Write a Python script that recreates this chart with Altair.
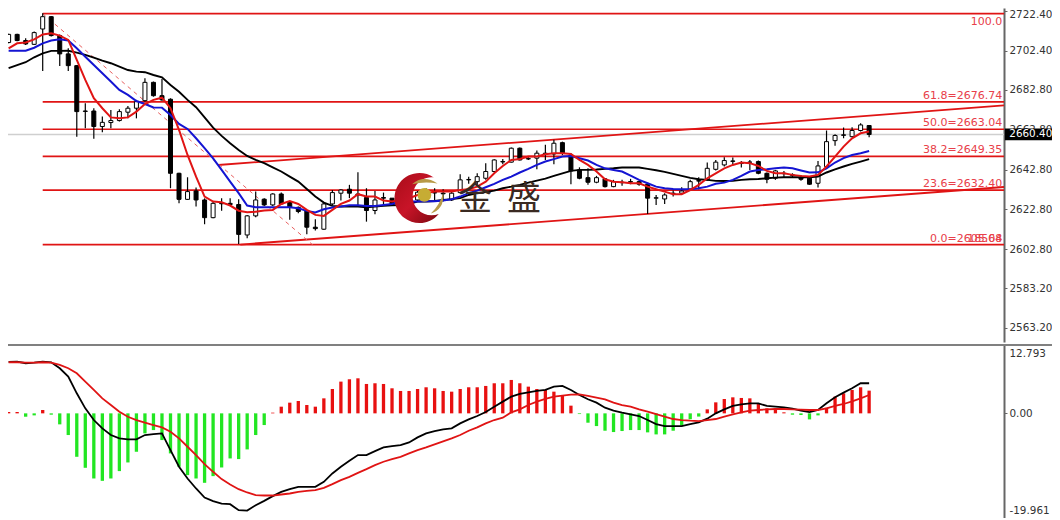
import altair as alt
import pandas as pd

bar_index = list(range(1, 103))
open_prices = [
    2706.6,2710.7,2707.6,2705.7,2713.4,2719.6,2710.1,2700.9,2695,2672.2,
    2672.2,2664.4,2666.4,2667.4,2671.6,2673.6,2677.4,2686.6,2679.9,2678.1,
    2640.9,2627.8,2632,2627.5,2618.6,2625.8,2625.8,2625.2,2609.9,2619.5,
    2627.9,2625,2630.5,2626.2,2623.8,2622,2613.8,2612.8,2625.5,2630.9,
    2632.9,2630.5,2628.7,2622.2,2628.7,2628.4,2625,2626,2627.5,2631,
    2631.2,2630.9,2627.5,2631.2,2637.6,2636.7,2638.4,2641.8,2646.8,2646.5,
    2653.5,2648.1,2648.5,2650.6,2650.6,2656.3,2650.1,2642.6,2638.7,2636.4,
    2638.1,2634.2,2636.4,2636.7,2636.7,2635.4,2628.4,2628,2630.9,2630.9,
    2632.9,2637.2,2637.6,2642.9,2645.1,2647.1,2645.95,2646.5,2646.8,2640.9,
    2638.4,2640.9,2640.1,2638.7,2638.4,2635.9,2644.3,2657.3,2660.2,2659.3,
    2662.4,2664.9]
high_prices = [
    2711,2711,2708.7,2712.1,2721.3,2720,2710.7,2703.7,2695.3,2676.1,
    2673.6,2669.4,2672.7,2673.1,2674.7,2677.8,2688.6,2687,2688.3,2678.6,
    2641.2,2638.9,2633.7,2628.3,2626.7,2628.3,2628.3,2627.8,2620,2631.7,
    2628.4,2630.9,2631.2,2626.7,2624.2,2622.5,2617.8,2626.2,2632.5,2632.9,
    2635.1,2641.4,2633.4,2632,2631.2,2628.4,2628,2629,2632,2633.4,
    2633.4,2632.9,2631.5,2640.4,2639.2,2640.9,2645.9,2648,2648.1,2653.8,
    2653.8,2649,2652.3,2655.2,2657.7,2656.8,2651,2643.9,2643.4,2639.6,
    2638.4,2637.6,2637.6,2638.1,2637.2,2636.2,2630,2630.9,2632.2,2633.9,
    2637.6,2638.9,2646.3,2647.6,2649,2648.8,2647.1,2647.6,2647.3,2641.3,
    2642.6,2642.1,2640.9,2640.1,2638.9,2647.1,2662.4,2660.5,2663.9,2664,
    2666,2665.2]
low_prices = [
    2706.3,2707.3,2705.4,2705.4,2692.3,2709.6,2694.8,2692.3,2659.3,2663.5,
    2658.2,2661.5,2663.5,2666.9,2668.5,2668.5,2676.9,2679.4,2677.4,2633.4,
    2625.8,2627.5,2624.2,2615.3,2618.3,2622.1,2625,2605.4,2608.2,2618.8,
    2624.5,2624.5,2625,2617.5,2620.8,2610.3,2612.1,2612.5,2625,2627.2,
    2628.4,2624.2,2616.6,2620.3,2625,2624.5,2624,2625,2627,2628,
    2627.5,2626.7,2627,2630.9,2635.6,2635.1,2637.6,2641.3,2645.4,2646.3,
    2647.3,2647.6,2642.9,2647.6,2645.4,2650.1,2635.4,2637.9,2635.1,2635.9,
    2633.7,2633.9,2634.6,2635.4,2634.7,2620.5,2625,2625.5,2629.2,2630.4,
    2632.5,2632.9,2637.2,2642.3,2644.3,2645.1,2643.8,2642.6,2640.4,2635.9,
    2637.6,2638.9,2638.9,2637.2,2635.1,2633.7,2643.4,2654.7,2658.5,2659,
    2661.9,2659]
close_prices = [
    2710.7,2707.6,2705.9,2711.6,2719.6,2710.1,2700.9,2695,2671.9,2672,
    2664.4,2666.5,2667.4,2671.9,2673.6,2676.9,2686.6,2679.9,2677.8,2640.9,
    2627.8,2631.7,2627.5,2618.6,2625.8,2625.6,2625.2,2610.2,2619.5,2627.5,
    2625,2630.5,2625.5,2623.8,2621.7,2613.8,2613.1,2625.5,2631.2,2632.5,
    2630.9,2630,2622.2,2627.5,2628.4,2625,2626,2627,2631.4,2631.5,
    2631,2630.6,2630.9,2637.6,2637.8,2639.2,2641.8,2647.6,2646.6,2653.5,
    2647.6,2648.3,2651,2651,2656,2651,2642.1,2638.4,2636.4,2638.7,
    2634.2,2636.7,2636.2,2636.5,2635.4,2628.4,2628.6,2630,2630.7,2632,
    2636.7,2637,2643.4,2646.5,2647.3,2646.9,2645.8,2646.5,2640.9,2637.9,
    2642.1,2640.7,2639.9,2637.9,2635.4,2644.6,2656.8,2659.9,2660,2662.4,
    2665.2,2660.4]
ma_fast = [
    2703.7,2706.2,2706.6,2708.2,2710.7,2711.3,2710.1,2707.9,2697.9,2687.8,
    2678.6,2673.6,2669,2668.5,2669,2671.9,2675.7,2677.8,2678.9,2673.6,
    2662.7,2650.1,2639.2,2629.2,2626.7,2626.3,2624.7,2622.1,2621.3,2621.6,
    2622.2,2622.5,2625.5,2626.9,2625.5,2622.5,2620,2619.5,2622.5,2625.5,
    2627.2,2630.4,2629.2,2629.2,2627.2,2626.7,2627.5,2628.4,2630,2630.9,
    2631.7,2631.7,2631.7,2632.5,2632.9,2634.2,2636.7,2640.9,
    2644.6,2647.6,2648.1,2649.3,2649.3,2650.5,2651,2651,2650.6,2647.6,
    2645.1,2641.8,2637.9,2636.7,2636.4,2635.9,2635.9,2634.2,2632.9,2631.7,
    2630.4,2630.4,2632.5,2635.1,2638.4,2640.9,2643.4,2645.1,2646.3,
    2646,2644.6,2642.1,2640.9,2640.9,2640.1,2639.6,2639.3,2640.1,2644.3,
    2649.3,2654.3,2658.5,2661,2661.9]
ma_mid = [
    2702.5,2702.5,2702.5,2704,2706.2,2707.6,2708.2,2707.6,2703.7,2699.5,
    2695.3,2691.2,2687,2682.8,2680.3,2677.2,2675.7,2674,2673.9,2670.2,
    2665.7,2663.2,2658.5,2653.5,2648.4,2642.6,2636.7,2630.9,2624.7,2623.8,
    2623.8,2623.8,2623.8,2623.8,2623.3,2622,2621.2,2622.8,2623.7,2624.2,
    2624.8,2624.8,2624.5,2624.5,2625,2625.5,2626.7,2626.7,2626.7,2626.9,
    2626.9,2627.2,2627.9,2629.2,2630.9,2632.2,2633.9,2635.6,
    2637.6,2639.2,2641.3,2643.1,2645.1,2646.8,2648,2649.3,2649.6,2648.5,
    2647.3,2645.1,2643.4,2642.6,2641.8,2639.7,2637.6,2635.9,2634.2,2633.4,
    2633,2632.9,2632.9,2633.4,2634.2,2635.6,2636.2,2637.6,2639.6,
    2641.8,2642.6,2642.9,2643.4,2643.8,2643.4,2642.3,2641.3,2641.4,2643.4,
    2646.3,2648.5,2650.1,2651,2652.1]
ma_slow = [
    2693.7,2695.3,2696.7,2699.2,2701.2,2702.4,2702.4,2702.5,2701.5,2700.4,
    2699,2697.5,2696.2,2694.5,2692.8,2692,2691.7,2690.3,2689.1,2685.3,
    2681.9,2677.8,2674.1,2669,2663.8,2659.7,2656,2652.6,2649.6,2647.6,
    2646,2643.9,2641.8,2639.2,2636.7,2633,2629.2,2626.2,2624.5,2624.2,
    2624.2,2624.2,2623.8,2624.2,2624.5,2624.8,2625,2625.5,2626.7,2626.7,
    2627,2627.5,2627.9,2628.4,2630,2630.9,2631.5,2632.2,
    2633.4,2634.2,2635.1,2636.2,2637.2,2638.2,2639.6,2640.9,2642.1,2642.6,
    2642.6,2642.8,2643.1,2643.4,2643.8,2643.8,2643.8,2643.1,2642.4,2641.6,
    2640.6,2639.6,2638.6,2637.9,2637.6,2637.1,2637,2637.1,2637.6,
    2637.9,2638,2638.4,2638.7,2638.9,2638.9,2638.9,2638.9,2639.2,2641.3,
    2642.9,2644.3,2645.6,2646.8,2648]
macd_hist = [
    .25,.25,-.63,-.38,.63,-.25,-2.06,-4.06,-8.13,-10.19,
    -12.19,-12.63,-12.19,-10.81,-9.19,-7.19,-3.75,-3.13,-5,-7.5,
    -10,-11.56,-12.19,-13,-11.75,-10.13,-8.44,-8.56,-6.75,-4.06,
    -2.19,.13,1.25,2,2.31,1.56,1.25,2.81,4.56,5.94,
    6.38,6.56,5.5,5.63,5.5,4.69,4.19,4.19,4.56,4.88,
    4.69,4.19,4.06,4.56,4.88,4.88,5.13,5.63,5.63,6.25,
    5.63,5,4.56,4.38,4.06,3.44,1.44,-.13,-1.75,-2.38,
    -3.25,-3.5,-3.31,-3.13,-3.13,-3.56,-3.94,-3.94,-3.25,-2.3,
    -1.1,-.6,.75,2.06,2.69,3,2.88,2.81,1.88,.94,
    .94,.19,-.25,-.31,-1.13,-.38,1.06,3.13,3.75,4.38,
    4.88,4.25]
macd_line = [
    9.63,9.69,9.38,9.5,9.69,9.56,8.44,6.88,3.75,.94,
    -1.25,-2.81,-4.06,-4.69,-4.88,-4.88,-4.06,-3.88,-3.75,-6.88,
    -10,-12.19,-14.06,-15.75,-16.44,-16.88,-17,-18.13,-18.19,-17.19,
    -16.38,-15.5,-14.69,-14.19,-13.75,-13.75,-13.75,-12.81,-11.25,-10,
    -8.88,-7.81,-7.81,-7.06,-6.38,-6.13,-5.94,-5.44,-4.5,-3.75,
    -3.31,-3,-2.81,-1.88,-1.13,-.5,.25,1.25,2.19,3.13,
    3.63,3.94,4.19,4.38,5,5.13,4.38,3.44,2.63,2,
    1.06,.5,.13,-.19,-.5,-1.25,-2,-2.38,-2.38,-2.38,
    -2,-1.69,-1,0,.75,1.38,1.69,1.88,1.88,1.38,
    1.25,1.13,.88,.5,.25,.63,1.88,3,3.88,4.69,
    5.63,5.63]
macd_signal = [
    9.56,9.56,9.5,9.5,9.56,9.5,9.06,8.44,7.5,5.94,
    4.38,2.81,1.56,.31,-.63,-1.25,-1.75,-2.19,-2.63,-3.44,
    -4.69,-6.25,-7.81,-9.5,-10.94,-12.31,-13.31,-14.19,-14.81,-15.31,
    -15.38,-15.38,-15.19,-15,-14.69,-14.5,-14.38,-13.94,-13.25,-12.5,
    -11.88,-11.13,-10.44,-9.69,-9.06,-8.56,-8.13,-7.5,-6.88,-6.38,
    -5.81,-5.25,-4.69,-4.06,-3.25,-2.63,-1.88,-1.25,-.81,.19,
    .75,1.56,2.19,2.69,3.13,3.31,3.5,3.56,3.25,2.94,
    2.63,2,1.56,1.25,.75,.31,-.13,-.63,-1.06,-1.25,
    -1.38,-1.44,-1.25,-1.06,-.63,-.19,.19,.5,.63,.75,
    .81,.81,.75,.69,.63,.63,.94,1.38,1.75,2.25,
    2.81,3.44]

fib_levels = [2721.1, 2676.74, 2663.04, 2649.35, 2632.40, 2605.04]
fib_labels = ["100.0", "61.8=2676.74", "50.0=2663.04", "38.2=2649.35", "23.6=2632.40", "0.0=2605.04"]
fib_overprint = ["18568"]
fib_start = 5
channel_upper_x = [25.6, 117.83]
channel_upper_y = [2645.06, 2675.0]
channel_lower_x = [28.2, 117.83]
channel_lower_y = [2605.1, 2634.0]
dashed_x = [5, 36.7]
dashed_y = [2721.1, 2604.9]
last_price = 2660.40
price_ticks = [2722.4, 2702.4, 2682.8, 2662.8, 2642.8, 2622.8, 2602.8, 2583.2, 2563.2]
macd_ticks = [12.793, 0, -19.961]

X_MIN, X_MAX, X_EDGE = 0.927, 117.83, 123.46
FONT = "DejaVu Sans"
AXIS_FONT_SIZE = 10.4
RED = "#e01414"
xs = alt.Scale(domain=[X_MIN, X_MAX], range=[0, 996], nice=False, zero=False, padding=0)
ps = alt.Scale(domain=[2556.12, 2723.96], range=[334, 0], nice=False, zero=False, padding=0)
ms = alt.Scale(domain=[-19.961, 12.793], range=[512, 337], nice=False, zero=False, padding=0)

def X(f): return alt.X(f, type="quantitative", scale=xs, axis=None)
def P(f, axis=None): return alt.Y(f, type="quantitative", scale=ps, axis=axis)
def M(f, axis=None): return alt.Y(f, type="quantitative", scale=ms, axis=axis)

df = pd.DataFrame(dict(i=bar_index, o=open_prices, h=high_prices, l=low_prices, c=close_prices,
                       fast=ma_fast, mid=ma_mid, slow=ma_slow, histv=macd_hist,
                       macdl=macd_line, sig=macd_signal))
df["zero"] = 0
df["body"] = ["#ffffff" if c >= o else "#000000" for o, c in zip(open_prices, close_prices)]
df["barcol"] = ["#e81010" if v >= 0 else "#22e622" for v in macd_hist]
fib = pd.DataFrame(dict(p=fib_levels, t=fib_labels, a=fib_start, b=X_MAX, lx=X_MAX - 0.2))

price_axis = alt.Axis(orient="right", values=price_ticks, format=".2f", title=None, grid=False,
                      labelOffset={"condition": [{"test": "datum.value == 2722.4", "value": 3}], "value": 0},
                      labelFont=FONT, labelFontSize=AXIS_FONT_SIZE, labelColor="#333333", labelPadding=2,
                      domainColor="#666666", domainWidth=2, tickColor="#666666", tickSize=3)
macd_axis = alt.Axis(orient="right", values=macd_ticks, title=None, grid=False,
                     labelExpr="datum.value == 0 ? '0.00' : (datum.value < 0 ? '-' + format(-datum.value, '.3f') : format(datum.value, '.3f'))",
                     labelOffset={"condition": [{"test": "datum.value == 12.793", "value": 8},
                                                {"test": "datum.value == -19.961", "value": -10}],
                                  "value": 0},
                     labelFont=FONT, labelFontSize=AXIS_FONT_SIZE, labelColor="#333333", labelPadding=2,
                     domainColor="#666666", domainWidth=2, tickColor="#666666", tickSize=3)

base = alt.Chart(df)
gray = alt.Chart(pd.DataFrame(dict(p=[last_price], a=[X_MIN], b=[X_MAX]))).mark_rule(
    color="#cfcfcf", strokeWidth=1.5).encode(x=X("a"), x2="b", y=P("p", price_axis))
sep = alt.Chart(pd.DataFrame(dict(p=[macd_ticks[0]], a=[X_MIN], b=[X_EDGE]))).mark_rule(
    color="#808080", strokeWidth=2).encode(x=X("a"), x2="b", y=M("p", macd_axis))
fib_lines = alt.Chart(fib).mark_rule(color=RED, strokeWidth=1.7).encode(x=X("a"), x2="b", y=P("p"))
up = alt.Chart(pd.DataFrame(dict(x=channel_upper_x, y=channel_upper_y))).mark_line(
    color=RED, strokeWidth=1.8).encode(x=X("x"), y=P("y"))
lo = alt.Chart(pd.DataFrame(dict(x=channel_lower_x, y=channel_lower_y))).mark_line(
    color=RED, strokeWidth=1.8).encode(x=X("x"), y=P("y"))
dash = alt.Chart(pd.DataFrame(dict(x=dashed_x, y=dashed_y))).mark_line(
    color="#e86060", strokeWidth=1, strokeDash=[4, 4]).encode(x=X("x"), y=P("y"))
wick = base.mark_rule(color="#000000", strokeWidth=1.2).encode(x=X("i"), y=P("l"), y2="h")
body = base.mark_bar(size=4, stroke="#000000", strokeWidth=1).encode(
    x=X("i"), y=P("o"), y2="c", fill=alt.Fill("body:N", scale=None))
black_ma = base.mark_line(color="#000000", strokeWidth=1.9).encode(x=X("i"), y=P("slow"))
blue_ma = base.mark_line(color="#1414d2", strokeWidth=2).encode(x=X("i"), y=P("mid"))
red_ma = base.mark_line(color=RED, strokeWidth=2).encode(x=X("i"), y=P("fast"))
fib_text = alt.Chart(fib.iloc[1:]).mark_text(align="right", baseline="middle", dy=-6, font=FONT, fontSize=11,
                                    color="#e8404a").encode(x=X("lx"), y=P("p"), text="t:N")
fib_top_text = alt.Chart(fib.iloc[:1]).mark_text(align="right", baseline="middle", dy=8, font=FONT, fontSize=11,
                                    color="#e8404a").encode(x=X("lx"), y=P("p"), text="t:N")
fib_extra = alt.Chart(pd.DataFrame(dict(x=[X_MAX - 0.2], y=[fib_levels[-1]], t=fib_overprint))).mark_text(
    align="right", baseline="middle", dy=-6, font=FONT, fontSize=11, color="#e8404a").encode(
    x=X("x"), y=P("y"), text="t:N")
tag = alt.Chart(pd.DataFrame(dict(a=[X_MAX + 0.1], b=[X_EDGE], top=[2663.4], bot=[2657.5]))).mark_rect(
    color="#000000").encode(x=X("a"), x2="b", y=P("top"), y2="bot")
tag_text = alt.Chart(pd.DataFrame(dict(x=[118.45], y=[last_price], t=["2660.40"]))).mark_text(
    align="left", baseline="middle", font=FONT, fontSize=AXIS_FONT_SIZE, color="#ffffff").encode(
    x=X("x"), y=P("y"), text="t:N")

hist = base.mark_rule(strokeWidth=3.3).encode(x=X("i"), y=M("histv"), y2="zero", color=alt.Color("barcol:N", scale=None))
macd_black = base.mark_line(color="#000000", strokeWidth=1.8).encode(x=X("i"), y=M("macdl"))
macd_red = base.mark_line(color=RED, strokeWidth=1.8).encode(x=X("i"), y=M("sig"))

crescent_path = "M .57 -.82 A 1 1 0 1 0 .77 .64 A .76 .76 0 1 1 .57 -.82 Z"
swoosh_top = "M -.3 -.55 Q .15 -.95 .72 -.58 Q .2 -.68 -.3 -.55 Z"
swoosh_low = "M .95 -.2 Q 1 .45 .45 .62 Q .8 .3 .95 -.2 Z"
logo_df = pd.DataFrame(dict(x=[49.23], y=[2628.5]))
crescent = alt.Chart(logo_df).mark_point(
    shape=crescent_path, size=2500, filled=True, opacity=1, strokeWidth=0,
    fill=alt.LinearGradient(gradient="linear", x1=0, y1=0, x2=1, y2=1,
                            stops=[alt.GradientStop(offset=0, color="#a80c18"),
                                   alt.GradientStop(offset=0.5, color="#c81428"),
                                   alt.GradientStop(offset=1, color="#7c0810")])
).encode(x=X("x"), y=P("y"))
sw1 = alt.Chart(logo_df).mark_point(shape=swoosh_top, size=2500, filled=True, opacity=1, strokeWidth=0,
                                    fill="#b89a48").encode(x=X("x"), y=P("y"))
sw2 = alt.Chart(logo_df).mark_point(shape=swoosh_low, size=2500, filled=True, opacity=1, strokeWidth=0,
                                    fill="#b89a48").encode(x=X("x"), y=P("y"))
ball = alt.Chart(pd.DataFrame(dict(x=[49.8], y=[2630.0]))).mark_point(
    shape="circle", size=190, filled=True, opacity=1, strokeWidth=0, fill="#c6ac34").encode(x=X("x"), y=P("y"))
logo_text = alt.Chart(pd.DataFrame(dict(x=[55.74, 61.5], y=[2627.5, 2627.5], t=["金", "盛"]))).mark_text(
    font="Noto Sans CJK SC", fontSize=34, color="#3a2a22", align="center", baseline="middle").encode(
    x=X("x"), y=P("y"), text="t:N")

chart = alt.layer(
    gray, sep, fib_lines, up, lo, dash, wick, body, black_ma, blue_ma, red_ma,
    fib_text, fib_top_text, fib_extra, tag, tag_text, hist, macd_black, macd_red,
    crescent, sw1, sw2, ball, logo_text
).resolve_scale(y="independent").properties(
    width=996, height=510,
    padding={"left": 0, "top": 0, "right": 48, "bottom": 0},
    autosize=alt.AutoSizeParams(type="none"),
    background="white"
).configure_view(stroke=None)

chart.save("out.html", embed_options={"renderer": "svg", "actions": False})
